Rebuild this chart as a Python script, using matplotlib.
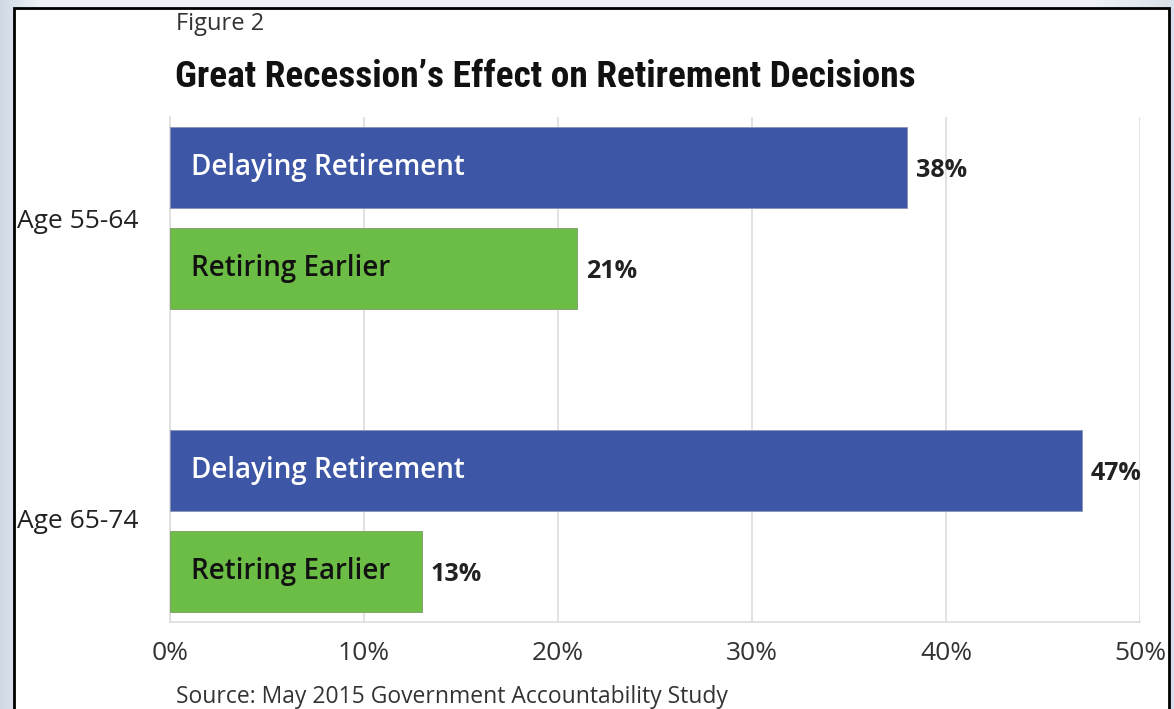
import matplotlib.pyplot as plt
import numpy as np
from matplotlib import font_manager
from matplotlib.colors import LinearSegmentedColormap
from matplotlib.patches import Rectangle

groups = ['Age 55-64', 'Age 65-74']
series = ['Delaying Retirement', 'Retiring Earlier']
delaying = [38, 47]
retiring = [21, 13]
xticks = [0, 10, 20, 30, 40, 50]
xlabels = ['0%', '10%', '20%', '30%', '40%', '50%']

blue = '#3d56a5'
green = '#6cbd45'
font = ['Open Sans', 'DejaVu Sans']

# pick a narrow face for the title if one is installed
names = {f.name for f in font_manager.fontManager.ttflist}
title_font = 'Roboto'
for cand in ['Liberation Sans Narrow', 'Roboto Condensed', 'Open Sans Condensed', 'DejaVu Sans Condensed']:
	if cand in names:
		title_font = cand
		break

fig = plt.figure(figsize=(11.74, 7.09), dpi=100)

# backdrop with a soft gradient and the framed white panel
bg = fig.add_axes([0, 0, 1, 1], zorder=-10)
grad = np.concatenate([np.linspace(0, 1, 40), np.ones(1054), np.linspace(1, 0.3, 80)])
bg.imshow(grad[np.newaxis, :], aspect='auto', extent=[0, 1, 0, 1], vmin=0, vmax=1,
	cmap=LinearSegmentedColormap.from_list('bg', ['#cfdae4', '#eef2f6']))
bg.add_patch(Rectangle((14/1174, -0.05), (1169 - 14)/1174, 1.05 - 8/709, facecolor='white',
	edgecolor='black', linewidth=2, transform=bg.transAxes))
bg.set_xlim(0, 1)
bg.set_ylim(0, 1)
bg.axis('off')

ax = fig.add_axes([170/1174, 1 - 622/709, (1140 - 170)/1174, (622 - 117)/709])
ax.set_facecolor('none')

pos_d = [0, 3]
pos_r = [1, 4]
ax.barh(pos_d, delaying, height=0.8, color=blue, edgecolor='#8a93b5', linewidth=0.6, zorder=3)
ax.barh(pos_r, retiring, height=0.8, color=green, edgecolor='#7c9a6a', linewidth=0.6, zorder=3)

for p, v in zip(pos_d, delaying):
	ax.text(1.1, p, series[0], color='white', fontsize=20, fontweight='semibold',
		va='center', ha='left', family=font, zorder=4)
	ax.text(v + 0.45, p + 0.03, f'{v}%', color='#222222', fontsize=18, fontweight='bold',
		va='center', ha='left', family=font, zorder=4)
for p, v in zip(pos_r, retiring):
	ax.text(1.1, p, series[1], color='#111111', fontsize=20, fontweight='semibold',
		va='center', ha='left', family=font, zorder=4)
	ax.text(v + 0.45, p + 0.03, f'{v}%', color='#222222', fontsize=18, fontweight='bold',
		va='center', ha='left', family=font, zorder=4)

lab_tr = plt.matplotlib.transforms.blended_transform_factory(fig.transFigure, ax.transData)
for g, p in zip(groups, [0.53, 3.5]):
	ax.text(17/1174, p, g, transform=lab_tr, fontsize=19, color='#222222',
		va='center', ha='left', family=font)

ax.set_xlim(0, 50)
ax.set_ylim(4.5, -0.5)
ax.set_xticks(xticks)
ax.set_xticklabels(xlabels, fontsize=19, color='#333333', family=font)
ax.set_yticks([])
ax.tick_params(axis='x', length=0, pad=14)
ax.grid(axis='x', color='#dddddd', linewidth=1.2, zorder=0)
for s in ['top', 'right']:
	ax.spines[s].set_visible(False)
for s in ['left', 'bottom']:
	ax.spines[s].set_color('#dddddd')
	ax.spines[s].set_linewidth(1.2)

fig.text(176/1174, 1 - 24/709, 'Figure 2', fontsize=17, color='#333333', va='center', ha='left', family=font)
title = fig.text(175/1174, 1 - 77/709, 'Great Recession\u2019s Effect on Retirement Decisions', fontsize=26,
	fontweight='bold', color='#111111', va='center', ha='left', family=[title_font, 'DejaVu Sans'])
fig.text(176/1174, 1 - 697/709, 'Source: May 2015 Government Accountability Study', fontsize=16.5,
	color='#333333', va='center', ha='left', family=font)

# scale the title so it spans the same width as in the original
renderer = fig.canvas.get_renderer()
w = title.get_window_extent(renderer).width
title.set_fontsize(26 * 742 / w)

fig.savefig('out.png', dpi=100)
